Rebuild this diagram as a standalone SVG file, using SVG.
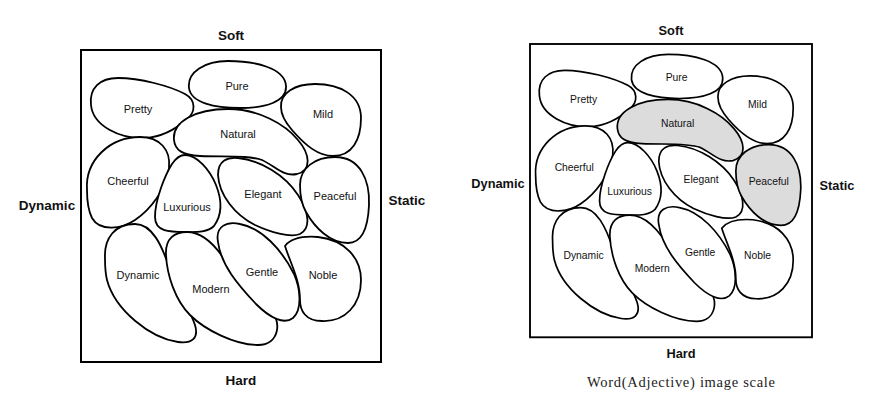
<svg xmlns="http://www.w3.org/2000/svg" xmlns:xlink="http://www.w3.org/1999/xlink" width="874" height="407" viewBox="0 0 874 407">
<style>
.bg{fill:#fff}
.frame{fill:none;stroke:#000;stroke-width:2}
.blob{fill:#fff;stroke:#000;stroke-width:1.8;stroke-linejoin:round}
.hi{fill:#dcdcdc}
.lbl{font-family:"Liberation Sans",Arial,sans-serif;font-size:11px;text-anchor:middle;fill:#111}
.axis{font-family:"Liberation Sans",Arial,sans-serif;font-weight:bold;text-anchor:middle;fill:#111}
.cap{font-family:"Liberation Serif","Times New Roman",serif;font-size:14.5px;text-anchor:middle;fill:#222}
</style>
<defs>
<path id="p-pretty" d="M 91,105 C 89,88 100,78 118,78 C 140,78 170,86 185,94 C 196,100 196,112 187,119 C 175,130 160,137 145,138 C 120,139 93,126 91,105 Z"/>
<path id="p-pure" d="M 189,88 C 187,72 205,61 228,61 C 255,61 285,68 286,86 C 287,102 265,108 240,108 C 215,108 191,103 189,88 Z"/>
<path id="p-mild" d="M 281,107 C 280,93 295,84 315,84 C 340,84 361,95 361,118 C 361,140 352,156 333,156 C 318,156 305,145 292,130 C 285,122 281,115 281,107 Z"/>
<path id="p-natural" d="M 174,140 C 172,122 195,109 228,109 C 258,109 285,124 298,140 C 310,154 312,170 297,174 C 283,177 275,166 262,160 C 248,155 225,157 200,156 C 182,155 175,150 174,140 Z"/>
<path id="p-cheerful" d="M 87,190 C 85,160 110,137 140,137 C 160,137 171,150 169,168 C 166,190 150,210 135,220 C 122,229 100,232 92,218 C 88,210 87,200 87,190 Z"/>
<path id="p-luxurious" d="M 185,155 C 197,155 210,170 216,185 C 222,200 222,215 214,226 C 207,233 195,232 185,232 C 170,232 155,232 155,217 C 155,200 165,175 172,164 C 176,158 180,155 185,155 Z"/>
<path id="p-elegant" d="M 218,175 C 218,160 228,157 238,158 C 260,160 285,175 298,195 C 308,210 312,228 300,234 C 290,238 270,232 255,225 C 235,215 219,195 218,175 Z"/>
<path id="p-peaceful" d="M 300,185 C 300,168 315,157 335,157 C 360,157 370,180 369,205 C 368,228 362,243 348,243 C 330,243 315,228 306,212 C 301,203 300,195 300,185 Z"/>
<path id="p-dynamic" d="M 105,258 C 104,238 115,224 135,224 C 152,224 162,245 170,270 C 177,290 190,310 195,325 C 199,338 192,344 178,342 C 150,338 115,310 107,280 C 105,272 105,265 105,258 Z"/>
<path id="p-modern" d="M 166,255 C 165,238 175,232 187,232 C 205,232 220,250 232,272 C 242,290 258,300 270,310 C 282,320 280,345 258,345 C 235,345 205,330 190,315 C 175,300 167,275 166,255 Z"/>
<path id="p-gentle" d="M 218,242 C 215,226 227,221 240,224 C 262,228 282,250 294,274 C 301,290 302,310 293,318 C 284,325 270,318 256,304 C 238,285 221,265 218,242 Z"/>
<path id="p-noble" d="M 285,246 C 292,237 305,236 318,237 C 345,240 361,258 361,280 C 361,305 345,322 322,321 C 305,321 300,310 300,300 C 300,280 290,262 285,246 Z"/>
</defs>
<rect class="bg" x="0" y="0" width="874" height="407"/>

<!-- Left scale -->
<g id="left-scale">
<rect class="frame" x="81" y="50" width="300" height="312"/>
<g id="l-pretty"><use xlink:href="#p-pretty" class="blob"/><text class="lbl" x="138" y="113">Pretty</text></g>
<g id="l-pure"><use xlink:href="#p-pure" class="blob"/><text class="lbl" x="237" y="89.5">Pure</text></g>
<g id="l-mild"><use xlink:href="#p-mild" class="blob"/><text class="lbl" x="323" y="118">Mild</text></g>
<g id="l-natural"><use xlink:href="#p-natural" class="blob"/><text class="lbl" x="238" y="138">Natural</text></g>
<g id="l-cheerful"><use xlink:href="#p-cheerful" class="blob"/><text class="lbl" x="128" y="185">Cheerful</text></g>
<g id="l-luxurious"><use xlink:href="#p-luxurious" class="blob"/><text class="lbl" x="187" y="211">Luxurious</text></g>
<g id="l-elegant"><use xlink:href="#p-elegant" class="blob"/><text class="lbl" x="263" y="198">Elegant</text></g>
<g id="l-peaceful"><use xlink:href="#p-peaceful" class="blob"/><text class="lbl" x="335" y="200">Peaceful</text></g>
<g id="l-dynamic"><use xlink:href="#p-dynamic" class="blob"/><text class="lbl" x="138" y="279">Dynamic</text></g>
<g id="l-modern"><use xlink:href="#p-modern" class="blob"/><text class="lbl" x="211" y="293">Modern</text></g>
<g id="l-gentle"><use xlink:href="#p-gentle" class="blob"/><text class="lbl" x="262" y="275.5">Gentle</text></g>
<g id="l-noble"><use xlink:href="#p-noble" class="blob"/><text class="lbl" x="323" y="279">Noble</text></g>
<text class="axis" x="231" y="40" font-size="13.5">Soft</text>
<text class="axis" x="241" y="385" font-size="13.5">Hard</text>
<text class="axis" x="47" y="210" font-size="13.5">Dynamic</text>
<text class="axis" x="407" y="205" font-size="13.5">Static</text>
</g>

<!-- Right scale (scaled copy) -->
<g id="right-scale">
<g transform="translate(453.86,-3) scale(0.94)">
<rect class="frame" x="81" y="50" width="300" height="312"/>
<g id="r-pretty"><use xlink:href="#p-pretty" class="blob"/><text class="lbl" x="138" y="113">Pretty</text></g>
<g id="r-pure"><use xlink:href="#p-pure" class="blob"/><text class="lbl" x="237" y="89.5">Pure</text></g>
<g id="r-mild"><use xlink:href="#p-mild" class="blob"/><text class="lbl" x="323" y="118">Mild</text></g>
<g id="r-natural"><use xlink:href="#p-natural" class="blob hi"/><text class="lbl" x="238" y="138">Natural</text></g>
<g id="r-cheerful"><use xlink:href="#p-cheerful" class="blob"/><text class="lbl" x="128" y="185">Cheerful</text></g>
<g id="r-luxurious"><use xlink:href="#p-luxurious" class="blob"/><text class="lbl" x="187" y="211">Luxurious</text></g>
<g id="r-elegant"><use xlink:href="#p-elegant" class="blob"/><text class="lbl" x="263" y="198">Elegant</text></g>
<g id="r-peaceful"><use xlink:href="#p-peaceful" class="blob hi"/><text class="lbl" x="335" y="200">Peaceful</text></g>
<g id="r-dynamic"><use xlink:href="#p-dynamic" class="blob"/><text class="lbl" x="138" y="279">Dynamic</text></g>
<g id="r-modern"><use xlink:href="#p-modern" class="blob"/><text class="lbl" x="211" y="293">Modern</text></g>
<g id="r-gentle"><use xlink:href="#p-gentle" class="blob"/><text class="lbl" x="262" y="275.5">Gentle</text></g>
<g id="r-noble"><use xlink:href="#p-noble" class="blob"/><text class="lbl" x="323" y="279">Noble</text></g>
</g>
<text class="axis" x="671" y="35" font-size="12.8">Soft</text>
<text class="axis" x="681" y="358" font-size="12.8">Hard</text>
<text class="axis" x="498" y="188" font-size="12.8">Dynamic</text>
<text class="axis" x="837" y="190" font-size="12.8">Static</text>
<text class="cap" x="681" y="387" textLength="188" lengthAdjust="spacing">Word(Adjective) image scale</text>
</g>
</svg>
